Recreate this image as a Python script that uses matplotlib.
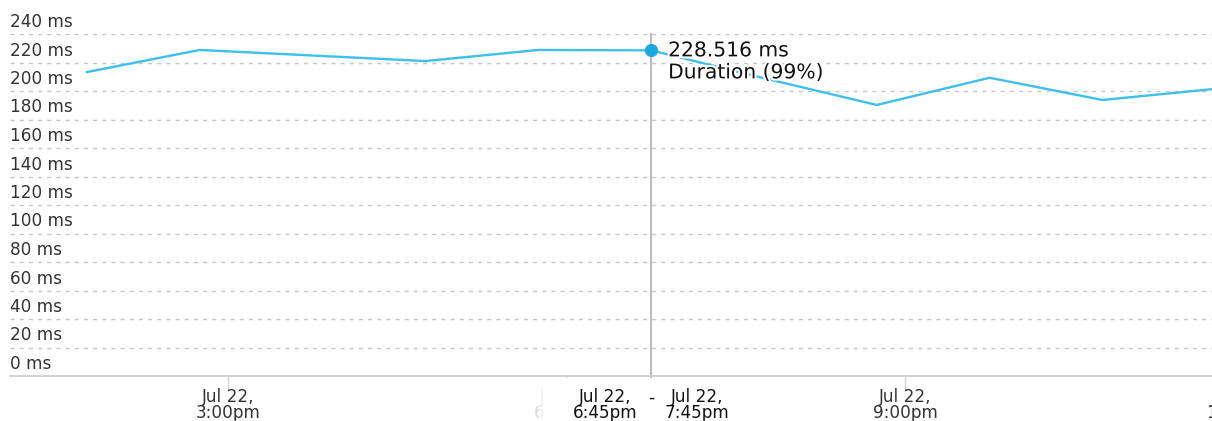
import matplotlib.pyplot as plt
import matplotlib.patheffects as pe
from matplotlib.patches import Rectangle
from matplotlib.transforms import blended_transform_factory

# hours since midnight, Jul 22 (one point per hour)
hours = [13.75, 14.75, 15.75, 16.75, 17.75, 18.75, 19.75, 20.75, 21.75, 22.75, 23.75]
duration_ms = [213.3, 228.8, 224.9, 221.0, 228.8, 228.516, 209.0, 190.2, 209.3, 193.7, 201.5]

y_ticks = [0, 20, 40, 60, 80, 100, 120, 140, 160, 180, 200, 220, 240]
y_labels = [f'{v} ms' for v in y_ticks]

x_ticks = [15, 18, 21, 24]
x_labels = ['Jul 22,\n3:00pm', 'Jul 22,\n6:00pm', 'Jul 22,\n9:00pm', 'Jul 23,\n12:00am']

# hovered point
hover_idx = 5
hover_from = 'Jul 22,\n6:45pm'
hover_to = 'Jul 22,\n7:45pm'
hover_value = '228.516 ms'
hover_series = 'Duration (99%)'

plt.rcParams['font.family'] = ['DejaVu Sans']

W, H = 1212, 421
fig = plt.figure(figsize=(W / 100, H / 100), dpi=100)
ax = fig.add_axes([10 / W, 45 / H, 1202 / W, 342 / H])

for s in ['top', 'right', 'left']:
    ax.spines[s].set_visible(False)
ax.spines['bottom'].set_color('#cccccc')
ax.spines['bottom'].set_linewidth(1.2)

# dashed grid
for v in y_ticks[1:]:
    ax.axhline(v, color='#c8c8c8', lw=1, ls=(0, (3, 3.6)), zorder=1)

ax.set_yticks([])
ax.set_xticks(x_ticks)
ax.set_xticklabels([])
ax.tick_params(axis='x', length=9, color='#d6d6d6', width=1)
# limits after the ticks, otherwise set_xticks widens the view
ax.set_xlim(13.068, 23.721)
ax.set_ylim(0, 240)

ytrans = blended_transform_factory(ax.transAxes, ax.transData)
for v, lab in zip(y_ticks, y_labels):
    ax.annotate(lab, (0, v), xycoords=ytrans, xytext=(0, 7), textcoords='offset pixels',
                ha='left', va='baseline', fontsize=12.2, color='#333333')

xtrans = blended_transform_factory(ax.transData, ax.transAxes)
for t, lab in zip(x_ticks, x_labels):
    ax.annotate(lab, (t, 0), xycoords=xtrans, xytext=(0, -29), textcoords='offset pixels',
                ha='center', va='center', fontsize=12.2, color='#333333',
                linespacing=0.9, annotation_clip=False)

# the series
ax.plot(hours, duration_ms, color='#3ec0ec', lw=1.7, zorder=3)

hx, hy = hours[hover_idx], duration_ms[hover_idx]

# cursor line
ax.axvline(hx, ymin=-10 / 342, ymax=1, color='#b4b4b4', lw=1.3, clip_on=False, zorder=2)
ax.plot([hx], [hy], 'o', color='#1ea8e2', ms=8.5, zorder=5)

halo = [pe.withStroke(linewidth=3, foreground='white')]
ax.annotate(hover_value, (hx, hy), xytext=(17, -6), textcoords='offset pixels',
            ha='left', va='baseline', fontsize=14.6, color='#111111',
            path_effects=halo, zorder=6)
ax.annotate(hover_series, (hx, hy), xytext=(17, -28), textcoords='offset pixels',
            ha='left', va='baseline', fontsize=14.6, color='#111111',
            path_effects=halo, zorder=6)

# hover range label on the x axis: white box, fading on its left edge
px = 1 / 112.83
for i, a in enumerate([0.55, 0.7, 0.82, 0.92]):
    ax.add_patch(Rectangle((hx - 124 * px + i * 4 * px, -0.2), 4 * px, 0.195, transform=xtrans,
                           facecolor='white', edgecolor='none', alpha=a,
                           clip_on=False, zorder=7))
ax.add_patch(Rectangle((hx - 108 * px, -0.2), 210 * px, 0.195, transform=xtrans,
                       facecolor='white', edgecolor='none', alpha=1,
                       clip_on=False, zorder=7))
ax.annotate(hover_from, (hx, 0), xycoords=xtrans, xytext=(-46, -29), textcoords='offset pixels',
            ha='center', va='center', fontsize=12.2, color='#111111',
            linespacing=0.9, annotation_clip=False, zorder=8)
ax.annotate('-', (hx, 0), xycoords=xtrans, xytext=(0, -22), textcoords='offset pixels',
            ha='center', va='center', fontsize=12.2, color='#111111',
            annotation_clip=False, zorder=8)
ax.annotate(hover_to, (hx, 0), xycoords=xtrans, xytext=(46, -29), textcoords='offset pixels',
            ha='center', va='center', fontsize=12.2, color='#111111',
            linespacing=0.9, annotation_clip=False, zorder=8)

fig.savefig('out.png', dpi=100)
